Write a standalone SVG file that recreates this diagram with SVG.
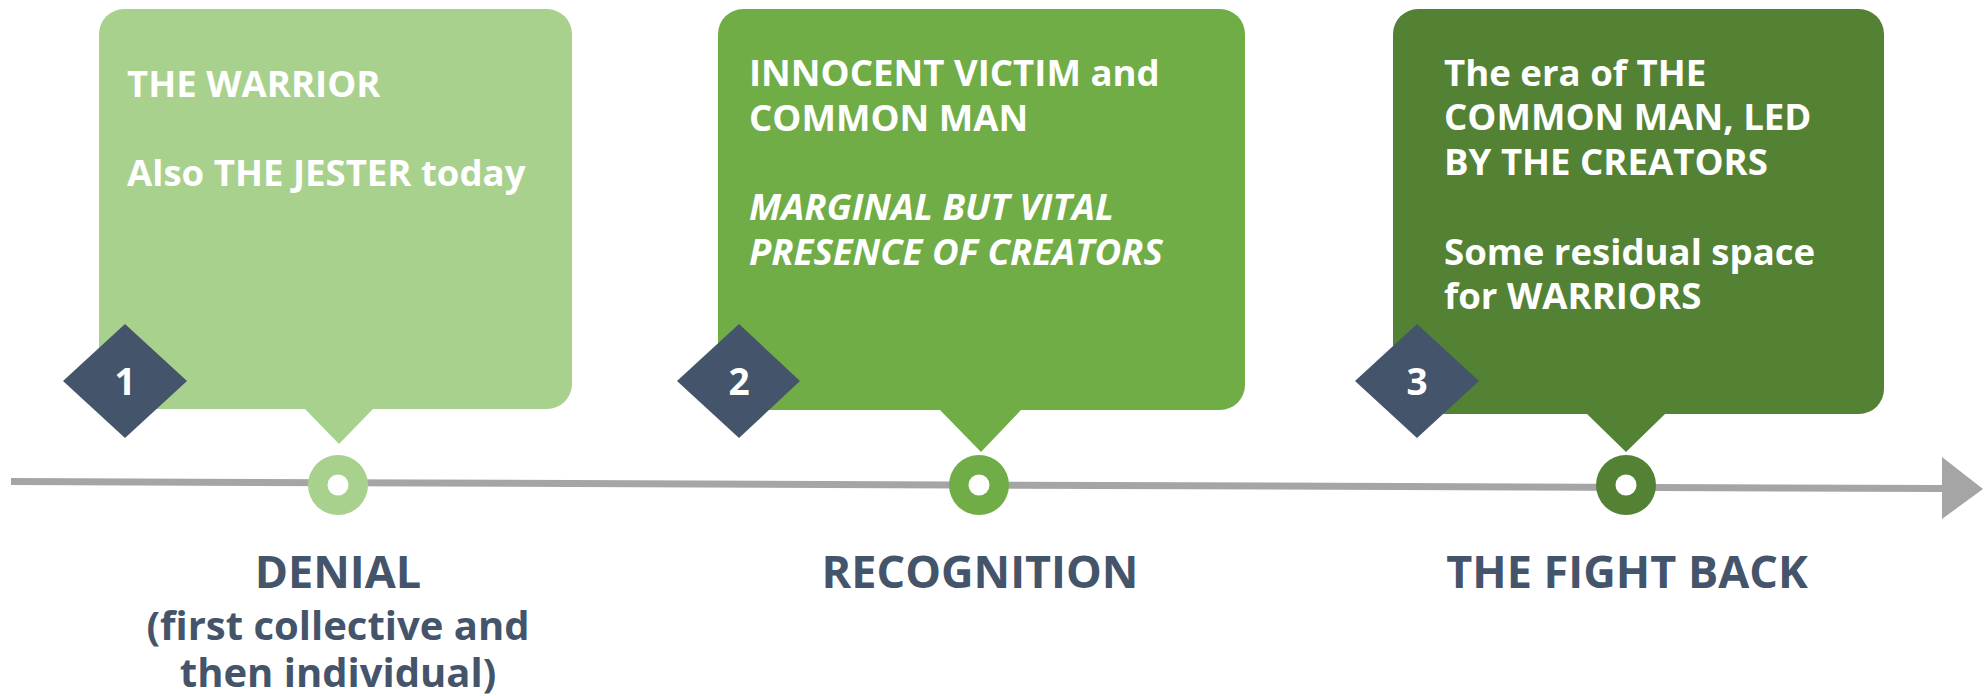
<svg xmlns="http://www.w3.org/2000/svg" width="1988" height="696" viewBox="0 0 1988 696">
  <style>
    .box-text { font-family: "Open Sans", "Noto Sans", "Liberation Sans", sans-serif; font-weight: 700; font-size: 36.6px; fill: #FFFFFF; }
    .italic { font-style: italic; }
    .num { font-family: "Open Sans", "Noto Sans", "Liberation Sans", sans-serif; font-weight: 700; font-size: 37px; fill: #FFFFFF; text-anchor: middle; }
    .label { font-family: "Open Sans", "Noto Sans", "Liberation Sans", sans-serif; font-weight: 700; font-size: 45px; fill: #44546A; text-anchor: middle; }
    .sublabel { font-family: "Open Sans", "Noto Sans", "Liberation Sans", sans-serif; font-weight: 700; font-size: 40px; fill: #44546A; text-anchor: middle; }
    .diamond { fill: #44546A; }
    .hole { fill: #FFFFFF; }
  </style>

  <!-- timeline axis -->
  <g id="connectors">
    <line x1="11" y1="481.5" x2="1944" y2="488.5" stroke="#A5A5A5" stroke-width="7"/>
    <polygon points="1942,457 1983,489 1942,519" fill="#A5A5A5"/>
  </g>

  <!-- stage 1 -->
  <g id="stage1">
    <path d="M124,9 H547 A25,25 0 0 1 572,34 V384 A25,25 0 0 1 547,409 H373 L339,444 L305,409 H124 A25,25 0 0 1 99,384 V34 A25,25 0 0 1 124,9 Z" fill="#A9D18E"/>
    <text class="box-text" x="127" y="97">THE WARRIOR</text>
    <text class="box-text" x="127" y="186">Also THE JESTER today</text>
    <polygon class="diamond" points="63,381 125,324 187,381 125,438"/>
    <text class="num" x="125" y="395">1</text>
    <circle cx="338" cy="485" r="30" fill="#A9D18E"/>
    <circle class="hole" cx="338" cy="485" r="10.5"/>
    <text class="label" x="338" y="588">DENIAL</text>
    <text class="sublabel" x="338" y="640">(first collective and</text>
    <text class="sublabel" x="338" y="687">then individual)</text>
  </g>

  <!-- stage 2 -->
  <g id="stage2">
    <path d="M743,9 H1220 A25,25 0 0 1 1245,34 V385 A25,25 0 0 1 1220,410 H1021 L981,452 L940,410 H743 A25,25 0 0 1 718,385 V34 A25,25 0 0 1 743,9 Z" fill="#70AD47"/>
    <text class="box-text" x="749" y="86">INNOCENT VICTIM and</text>
    <text class="box-text" x="749" y="131">COMMON MAN</text>
    <text class="box-text italic" x="749" y="220">MARGINAL BUT VITAL</text>
    <text class="box-text italic" x="749" y="265">PRESENCE OF CREATORS</text>
    <polygon class="diamond" points="677,381 739,324 800,381 739,438"/>
    <text class="num" x="739" y="395">2</text>
    <circle cx="979" cy="485" r="30" fill="#70AD47"/>
    <circle class="hole" cx="979" cy="485" r="10.5"/>
    <text class="label" x="980" y="588">RECOGNITION</text>
  </g>

  <!-- stage 3 -->
  <g id="stage3">
    <path d="M1418,9 H1859 A25,25 0 0 1 1884,34 V389 A25,25 0 0 1 1859,414 H1665 L1626,452 L1587,414 H1418 A25,25 0 0 1 1393,389 V34 A25,25 0 0 1 1418,9 Z" fill="#548235"/>
    <text class="box-text" x="1444" y="86">The era of THE</text>
    <text class="box-text" x="1444" y="130">COMMON MAN, LED</text>
    <text class="box-text" x="1444" y="175">BY THE CREATORS</text>
    <text class="box-text" x="1444" y="265">Some residual space</text>
    <text class="box-text" x="1444" y="309">for WARRIORS</text>
    <polygon class="diamond" points="1355,381 1417,324 1479,381 1417,438"/>
    <text class="num" x="1417" y="395">3</text>
    <circle cx="1626" cy="485" r="30" fill="#548235"/>
    <circle class="hole" cx="1626" cy="485" r="10.5"/>
    <text class="label" x="1627" y="588">THE FIGHT BACK</text>
  </g>
</svg>
